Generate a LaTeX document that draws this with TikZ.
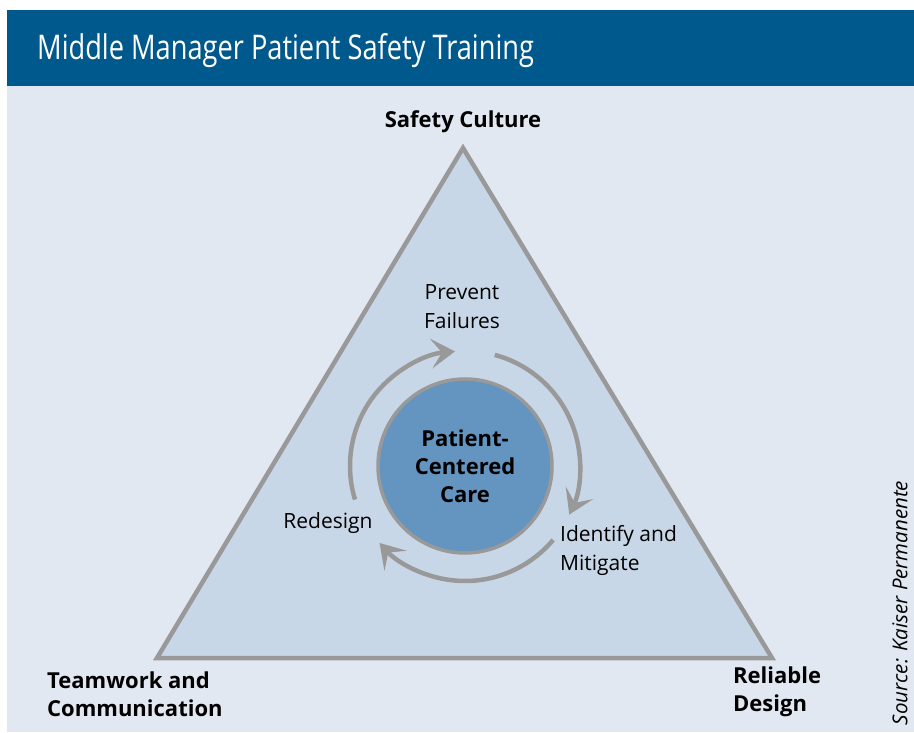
\documentclass[tikz,border=0pt]{standalone}
\usepackage{fontspec}
\setmainfont{Open Sans}
\newfontfamily\titlefont[FakeStretch=0.80]{Open Sans}
\usetikzlibrary{arrows.meta}
\definecolor{barblue}{HTML}{00598C}
\definecolor{paleback}{HTML}{E1E8F1}
\definecolor{trifill}{HTML}{C8D7E7}
\definecolor{carefill}{HTML}{6495C0}
\definecolor{rimgray}{HTML}{999999}
\newcommand{\cyclearc}[2]{\draw[cyclearrow] ([shift={(#1:115pt)}]care.center) arc[start angle=#1, end angle=#2, radius=115pt]}

\begin{document}
\begin{tikzpicture}[x=1pt,y=1pt,
    corner/.style={font=\fontsize{22}{28}\selectfont\bfseries, align=left, inner sep=0pt},
    step label/.style={font=\fontsize{21}{29}\selectfont, inner sep=0pt},
    cyclearrow/.style={rimgray, line width=4.5pt, -{Stealth[length=24pt, width=30pt, inset=11pt]}}]
    \useasboundingbox (0,0) rectangle (914,732);
    \fill[paleback] (7,0) rectangle (914,646);
    \fill[barblue] (7,646) rectangle (914,722);
    \node[anchor=west, text=white, inner sep=0pt, font=\titlefont\fontsize{34}{40}\selectfont] (title) at (37,681) {Middle Manager Patient Safety Training};

    \coordinate (apex) at (463,584);
    \coordinate (left) at (157,74);
    \coordinate (right) at (772,74);
    \filldraw[fill=trifill, draw=rimgray, line width=4.5pt, line join=miter] (apex) -- (right) -- (left) -- cycle;

    \node[circle, fill=carefill, draw=rimgray, line width=3.5pt, minimum size=174pt, align=center, font=\fontsize{22}{28}\selectfont\bfseries] (care) at (465,266) {Patient-\\Centered\\Care};

    \cyclearc{197}{95};
    \cyclearc{75}{-25};
    \cyclearc{-40}{-138};

    \node[corner, align=center] (culture) at (463,610) {Safety Culture};
    \node[corner, anchor=west] (teamwork) at (47,38) {Teamwork and\\Communication};
    \node[corner, anchor=west] (reliable) at (733,40) {Reliable\\Design};

    \node[step label, align=center] (prevent) at (462,425) {Prevent\\Failures};
    \node[step label] (redesign) at (328,209) {Redesign};
    \node[step label, anchor=west, align=left] (identify) at (560,182) {Identify and\\Mitigate};

    \node[rotate=90, inner sep=0pt, font=\fontsize{20.5}{24}\selectfont\itshape] (source) at (900,129) {Source: Kaiser Permanente};
\end{tikzpicture}
\end{document}
